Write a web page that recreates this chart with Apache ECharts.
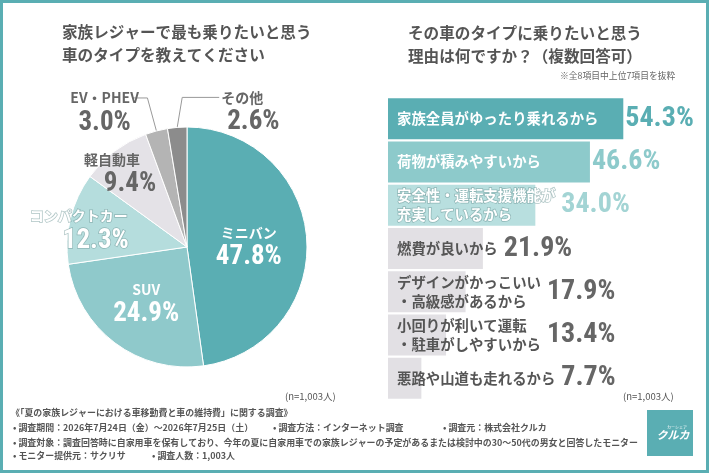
<!DOCTYPE html>
<html>
<head>
<meta charset="utf-8">
<script src="https://cdn.jsdelivr.net/npm/echarts@6/dist/echarts.min.js"></script>
<style>
  html, body { margin: 0; padding: 0; background: #fff; }
  #chart { width: 710px; height: 474px; }
</style>
</head>
<body>
<div id="chart"></div>
<script>
// Left: car type (pie)
const carTypes = ['ミニバン', 'SUV', 'コンパクトカー', '軽自動車', 'EV・PHEV', 'その他'];
const carShares = [47.8, 24.9, 12.3, 9.4, 3.0, 2.6];

// Right: reasons (bars)
const reasons = [
  '家族全員がゆったり乗れるから',
  '荷物が積みやすいから',
  '安全性・運転支援機能が\n充実しているから',
  '燃費が良いから',
  'デザインがかっこいい\n・高級感があるから',
  '小回りが利いて運転\n・駐車がしやすいから',
  '悪路や山道も走れるから'
];
const reasonShares = [54.3, 46.6, 34.0, 21.9, 17.9, 13.4, 7.7];

const TEAL = '#5aaeb3';
const JP = '"Noto Sans CJK JP", "Noto Sans", sans-serif';
const NUM = '"Liberation Sans Narrow", "Roboto Condensed", Roboto, sans-serif';
const GRAY_TEXT = '#666';

const pieColors = ['#5aaeb3', '#8fc9cb', '#b5dddd', '#e4e2e7', '#b4b4b4', '#8c8c8c'];
const barColors = ['#5aaeb3', '#8dcacb', '#b8dfdf', '#e2e0e4', '#e2e0e4', '#e2e0e4', '#e2e0e4'];
const barTextColors = ['#fff', '#fff', '#fff', '#555', '#555', '#555', '#555'];
const valueColors = ['#5aaeb3', '#8dcacb', '#a3d4d4', GRAY_TEXT, GRAY_TEXT, GRAY_TEXT, GRAY_TEXT];

// pie label styling per slice: text colour, value shift, token align, nudge
const pieLabelStyle = [
  { color: '#fff', shift: 0, align: 'center', dx: -1, dy: 5 },
  { color: '#fff', shift: 0, align: 'center', dx: -3, dy: 7 },
  { color: '#fff', shift: 34, align: 'center', dx: -47, dy: -1, outline: true },
  { color: GRAY_TEXT, shift: 36, align: 'center', dx: -37, dy: -22 },
  { color: GRAY_TEXT, shift: 0, align: 'center', outside: 'left' },
  { color: GRAY_TEXT, shift: 6, align: 'left', outside: 'right' }
];

const chart = echarts.init(document.getElementById('chart'));

const BAR_FONT = 14.4;
const BAR_PAD = 9;
const measureCtx = document.createElement('canvas').getContext('2d');
function textWidth(str) {
  measureCtx.font = `bold ${BAR_FONT}px ${JP}`;
  return Math.max(...str.split('\n').map(s => measureCtx.measureText(s).width));
}

const pieData = carTypes.map((name, i) => {
  const st = pieLabelStyle[i];
  const outline = st.outline ? { textBorderColor: 'rgba(110,150,150,0.55)', textBorderWidth: 1.5 } : {};
  return {
    name,
    value: carShares[i],
    itemStyle: { color: pieColors[i] },
    label: {
      position: st.outside ? 'outside' : 'inside',
      overflow: 'none',
      rich: {
        n: Object.assign({ fontFamily: JP, fontSize: 14, fontWeight: 'bold', color: st.color, lineHeight: 20, align: st.align }, outline),
        v: Object.assign({ fontFamily: NUM, fontSize: 27, fontWeight: 'bold', color: st.color, lineHeight: 30, align: st.align, padding: [0, 0, 0, st.shift] }, outline)
      }
    },
    labelLine: { show: !!st.outside }
  };
});

const footStyle = { fontFamily: JP, fontSize: 8.95, fontWeight: 'bold', fill: '#555', verticalAlign: 'middle' };
const footText = (x, y, text) => ({ type: 'text', x, y, silent: true, style: Object.assign({ text }, footStyle) });

chart.setOption({
  animation: false,
  title: [
    {
      text: '家族レジャーで最も乗りたいと思う\n車のタイプを教えてください',
      left: 62, top: 21, padding: 0,
      textStyle: { fontFamily: JP, fontSize: 15.6, fontWeight: 'bold', color: '#555', lineHeight: 23 }
    },
    {
      text: 'その車のタイプに乗りたいと思う\n理由は何ですか？（複数回答可）',
      left: 408, top: 22, padding: 0,
      textStyle: { fontFamily: JP, fontSize: 15.6, fontWeight: 'bold', color: '#555', lineHeight: 23 }
    }
  ],
  grid: { left: 388, top: 97, width: 260, height: 303 },
  xAxis: { type: 'value', min: 0, max: 60, show: false },
  yAxis: { type: 'category', data: reasons, inverse: true, show: false },
  series: [
    {
      type: 'pie',
      center: [187, 247],
      radius: 120,
      startAngle: 90,
      clockwise: true,
      silent: true,
      itemStyle: { borderColor: '#fff', borderWidth: 1 },
      label: {
        show: true,
        overflow: 'none',
        formatter: p => `{n|${p.name}}\n{v|${p.value.toFixed(1)}%}`
      },
      labelLine: { lineStyle: { color: '#999', width: 1 }, length: 30, length2: 15 },
      labelLayout: params => {
        const st = pieLabelStyle[params.dataIndex];
        if (!st.outside) return { dx: st.dx, dy: st.dy };
        const pts = params.labelLinePoints;
        if (!pts) return {};
        const p0 = pts[0];
        if (st.outside === 'left') {
          const p1 = [p0[0] - 9, p0[1] - 33];
          const p2 = [p1[0] - 15, p1[1]];
          return { x: p2[0] - 2, y: p2[1] - 10, align: 'right', verticalAlign: 'top', labelLinePoints: [p0, p1, p2] };
        }
        const p1 = [p0[0] + 5, p0[1] - 30];
        const p2 = [p1[0] + 37, p1[1]];
        return { x: p2[0] + 2, y: p2[1] - 10, align: 'left', verticalAlign: 'top', labelLinePoints: [p0, p1, p2] };
      },
      data: pieData
    },
    {
      type: 'bar',
      barWidth: 41,
      silent: true,
      data: reasonShares.map((v, i) => ({
        value: v,
        itemStyle: { color: barColors[i] },
        label: i === 2
          ? { color: barTextColors[i], textBorderColor: 'rgba(110,150,150,0.55)', textBorderWidth: 1.5 }
          : { color: barTextColors[i] }
      })),
      label: {
        show: true,
        position: 'insideLeft',
        distance: BAR_PAD,
        formatter: p => p.name,
        fontFamily: JP,
        fontSize: BAR_FONT,
        fontWeight: 'bold',
        lineHeight: 19
      }
    },
    {
      type: 'custom',
      silent: true,
      data: reasonShares.map((v, i) => [v, i]),
      encode: { x: 0, y: 1 },
      renderItem: (params, api) => {
        const v = api.value(0);
        const i = api.value(1);
        const end = api.coord([v, i]);
        const textEnd = api.coord([0, i])[0] + BAR_PAD + textWidth(reasons[i]);
        return {
          type: 'text',
          x: Math.max(end[0] + 2, textEnd + 6),
          y: end[1],
          style: {
            text: v.toFixed(1) + '%',
            fill: valueColors[i],
            fontFamily: NUM,
            fontSize: 28,
            fontWeight: 'bold',
            align: 'left',
            verticalAlign: 'middle'
          }
        };
      }
    }
  ],
  graphic: [
    { type: 'rect', shape: { x: 1.5, y: 1.5, width: 706, height: 470 }, style: { fill: 'none', stroke: TEAL, lineWidth: 3 }, silent: true },
    { type: 'text', x: 560, y: 76, style: { text: '※全8項目中上位7項目を抜粋', fontFamily: JP, fontSize: 8.8, fill: '#666', verticalAlign: 'middle' } },
    { type: 'text', x: 285, y: 396, style: { text: '(n=1,003人)', fontFamily: JP, fontSize: 9.5, fill: '#555', verticalAlign: 'middle' } },
    { type: 'text', x: 623, y: 396, style: { text: '(n=1,003人)', fontFamily: JP, fontSize: 9.5, fill: '#555', verticalAlign: 'middle' } },
    footText(11, 413, '《「夏の家族レジャーにおける車移動費と車の維持費」に関する調査》'),
    footText(13, 428, '• 調査期間：2026年7月24日（金）～2026年7月25日（土）'),
    footText(273, 428, '• 調査方法：インターネット調査'),
    footText(443, 428, '• 調査元：株式会社クルカ'),
    footText(13, 443, '• 調査対象：調査回答時に自家用車を保有しており、今年の夏に自家用車での家族レジャーの予定があるまたは検討中の30～50代の男女と回答したモニター'),
    footText(13, 456, '• モニター提供元：サクリサ'),
    footText(152, 456, '• 調査人数：1,003人'),
    // logo
    { type: 'rect', shape: { x: 647, y: 410, width: 46, height: 46 }, style: { fill: TEAL } },
    { type: 'text', x: 673, y: 435, style: { text: 'クルカ', fontFamily: JP, fontSize: 11, fontWeight: 'bold', fontStyle: 'italic', fill: '#fff', align: 'center', verticalAlign: 'middle' } },
    { type: 'text', x: 677, y: 427, style: { text: 'カーシェア', fontFamily: JP, fontSize: 4, fill: '#fff', align: 'center', verticalAlign: 'middle' } }
  ]
});
</script>
</body>
</html>
